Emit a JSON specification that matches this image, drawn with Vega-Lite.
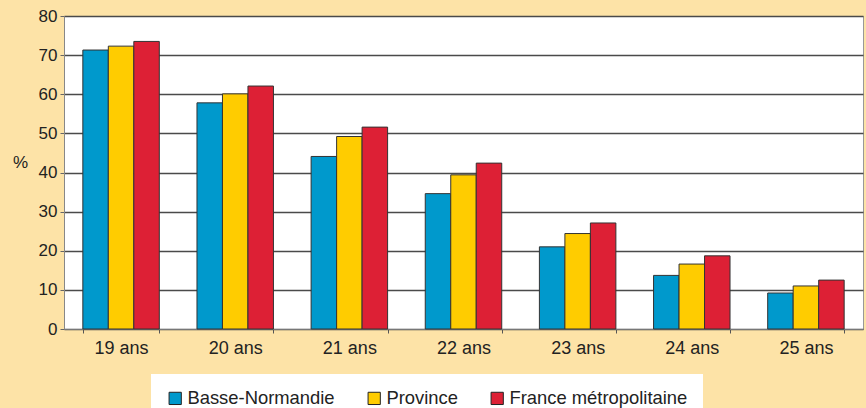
{
  "$schema": "https://vega.github.io/schema/vega-lite/v6.json",
  "width": 799,
  "height": 313,
  "autosize": {"type": "none"},
  "padding": {"left": 64, "top": 16, "right": 3, "bottom": 79},
  "background": "#FDE3A7",
  "config": {
    "font": "Liberation Sans",
    "view": {"fill": "white", "stroke": "#999999", "strokeWidth": 1}
  },
  "data": {
    "values": [
      {"age": "19 ans", "zone": "Basse-Normandie", "pct": 71.3},
      {"age": "19 ans", "zone": "Province", "pct": 72.3},
      {"age": "19 ans", "zone": "France métropolitaine", "pct": 73.5},
      {"age": "20 ans", "zone": "Basse-Normandie", "pct": 57.8},
      {"age": "20 ans", "zone": "Province", "pct": 60.1},
      {"age": "20 ans", "zone": "France métropolitaine", "pct": 62.1},
      {"age": "21 ans", "zone": "Basse-Normandie", "pct": 44.1},
      {"age": "21 ans", "zone": "Province", "pct": 49.2},
      {"age": "21 ans", "zone": "France métropolitaine", "pct": 51.6},
      {"age": "22 ans", "zone": "Basse-Normandie", "pct": 34.6},
      {"age": "22 ans", "zone": "Province", "pct": 39.4},
      {"age": "22 ans", "zone": "France métropolitaine", "pct": 42.4},
      {"age": "23 ans", "zone": "Basse-Normandie", "pct": 21.0},
      {"age": "23 ans", "zone": "Province", "pct": 24.4},
      {"age": "23 ans", "zone": "France métropolitaine", "pct": 27.1},
      {"age": "24 ans", "zone": "Basse-Normandie", "pct": 13.7},
      {"age": "24 ans", "zone": "Province", "pct": 16.6},
      {"age": "24 ans", "zone": "France métropolitaine", "pct": 18.7},
      {"age": "25 ans", "zone": "Basse-Normandie", "pct": 9.2},
      {"age": "25 ans", "zone": "Province", "pct": 11.0},
      {"age": "25 ans", "zone": "France métropolitaine", "pct": 12.5}
    ]
  },
  "mark": {"type": "bar", "stroke": "#333333", "strokeWidth": 1},
  "encoding": {
    "x": {
      "field": "age",
      "type": "nominal",
      "sort": null,
      "scale": {"paddingInner": 0.33, "paddingOuter": 0.165},
      "axis": {
        "title": null,
        "labelAngle": 0,
        "labelFontSize": 18,
        "labelColor": "#222222",
        "labelPadding": 6,
        "tickBand": "extent",
        "tickSize": 4,
        "tickColor": "#555555",
        "domainColor": "#777777",
        "grid": false
      }
    },
    "xOffset": {
      "field": "zone",
      "type": "nominal",
      "sort": ["Basse-Normandie", "Province", "France métropolitaine"],
      "scale": {"paddingInner": 0, "paddingOuter": 0}
    },
    "y": {
      "field": "pct",
      "type": "quantitative",
      "scale": {"domain": [0, 80], "nice": false},
      "axis": {
        "title": "%",
        "titleAngle": 0,
        "titleX": -44,
        "titleY": 146,
        "titleAlign": "center",
        "titleBaseline": "middle",
        "titleFontSize": 17,
        "titleFontWeight": "normal",
        "titleColor": "#222222",
        "values": [0, 10, 20, 30, 40, 50, 60, 70, 80],
        "labelFontSize": 17,
        "labelColor": "#222222",
        "labelPadding": 3,
        "tickSize": 4,
        "tickColor": "#666666",
        "domainColor": "#888888",
        "gridColor": "#4a4a4a",
        "gridWidth": 1.3
      }
    },
    "color": {
      "field": "zone",
      "type": "nominal",
      "scale": {
        "domain": ["Basse-Normandie", "Province", "France métropolitaine"],
        "range": ["#0099CC", "#FFCC00", "#DD2035"]
      },
      "legend": {
        "title": null,
        "orient": "none",
        "direction": "horizontal",
        "legendX": 87,
        "legendY": 358,
        "fillColor": "white",
        "padding": 15,
        "symbolType": "square",
        "symbolSize": 150,
        "symbolStrokeColor": "#222222",
        "symbolStrokeWidth": 1,
        "symbolOpacity": 1,
        "labelFontSize": 18.4,
        "labelColor": "#222222",
        "labelOffset": 3,
        "labelLimit": 300,
        "columnPadding": 30
      }
    }
  }
}
